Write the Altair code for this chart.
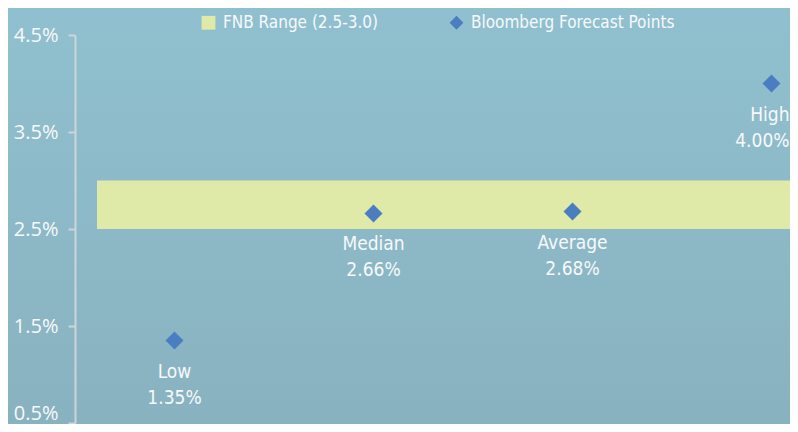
import altair as alt
import pandas as pd

categories = ["Low", "Median", "Average", "High"]
values = [1.35, 2.66, 2.68, 4.00]
band_low = [2.5]
band_high = [3.0]
series = ["FNB Range (2.5-3.0)", "Bloomberg Forecast Points"]
y_ticks = [0.5, 1.5, 2.5, 3.5, 4.5]

pts = pd.DataFrame({"cat": categories, "val": values, "series": series[1]})
pts["label"] = [f"{c}\n{v:.2f}%" for c, v in zip(categories, values)]
band = pd.DataFrame({"lo": band_low, "hi": band_high, "series": series[0]})

W, H = 715, 388
PL, PT = 67, 27
NARROW = "Liberation Sans Narrow, Arial Narrow, DejaVu Sans Condensed, sans-serif"
WHITE = "#F7F9FA"

color_scale = alt.Scale(domain=series, range=["#E0EAA8", "#4A7EC0"])
shape_scale = alt.Scale(domain=series, range=["square", "diamond"])
yscale = alt.Scale(domain=[0.5, 4.5], nice=False, zero=False)
xscale = alt.Scale(type="point", domain=categories, range=[0, 796], padding=0.5)

grad = alt.Gradient(
    gradient="linear",
    stops=[alt.GradientStop(color="#90C0CF", offset=0),
           alt.GradientStop(color="#89B2C0", offset=1)],
    x1=0, x2=0, y1=0, y2=1,
)

bg = alt.Chart(pd.DataFrame({"a": [0]})).mark_rect(color=grad).encode(
    x=alt.value(-PL), x2=alt.value(W), y=alt.value(-PT), y2=alt.value(H + 1)
)

band_layer = alt.Chart(band).mark_rect(opacity=1).encode(
    x=alt.value(22),
    x2=alt.value(W),
    y=alt.Y(
        "hi:Q",
        scale=yscale,
        axis=alt.Axis(
            values=y_ticks,
            labelExpr="format(datum.value, '.1f') + '%'",
            grid=False,
            domainColor="#CCD5DA",
            domainWidth=2,
            tickColor="#CCD5DA",
            tickWidth=2,
            tickSize=7,
            labelColor=WHITE,
            labelFontSize=20,
            labelFont="Open Sans",
            labelPadding=10,
            labelBaseline=alt.condition(
                "datum.value == 0.5", alt.value("bottom"), alt.value("middle")
            ),
            title=None,
            zindex=2,
        ),
    ),
    y2="lo:Q",
    color=alt.Color(
        "series:N",
        scale=color_scale,
        legend=alt.Legend(
            orient="none",
            legendX=125,
            legendY=-21,
            direction="horizontal",
            title=None,
            labelFont=NARROW,
            labelFontSize=17,
            labelColor=WHITE,
            labelLimit=400,
            symbolSize=190,
            symbolStrokeWidth=0,
            symbolOpacity=1,
            columnPadding=70,
            labelOffset=6,
            padding=0,
        ),
    ),
)

pt_layer = alt.Chart(pts).mark_point(filled=True, size=324, opacity=1).encode(
    x=alt.X("cat:N", scale=xscale, axis=None, sort=categories),
    y=alt.Y("val:Q", scale=yscale),
    color=alt.Color("series:N", scale=color_scale),
    shape=alt.Shape("series:N", scale=shape_scale),
)

txt_base = alt.Chart(pts).encode(
    x=alt.X("cat:N", scale=xscale, axis=None, sort=categories),
    y=alt.Y("val:Q", scale=yscale),
    text="label:N",
)
txt_style = dict(baseline="top", dy=22, fontSize=19, font=NARROW, color=WHITE,
                 lineBreak="\n", lineHeight=26)
txt_mid = txt_base.transform_filter("datum.cat != 'High'").mark_text(**txt_style)
txt_edge = txt_base.transform_filter("datum.cat == 'High'").mark_text(
    align="right", dx=18, **txt_style
)

chart = alt.layer(bg, band_layer, pt_layer, txt_mid, txt_edge).properties(
    width=W,
    height=H,
    autosize=alt.AutoSizeParams(type="none"),
    padding={"left": PL, "top": PT, "right": 0, "bottom": 1},
    background="#8DBACA",
).configure_view(stroke=None)

chart.save("out.html", embed_options={"renderer": "svg", "actions": False})
